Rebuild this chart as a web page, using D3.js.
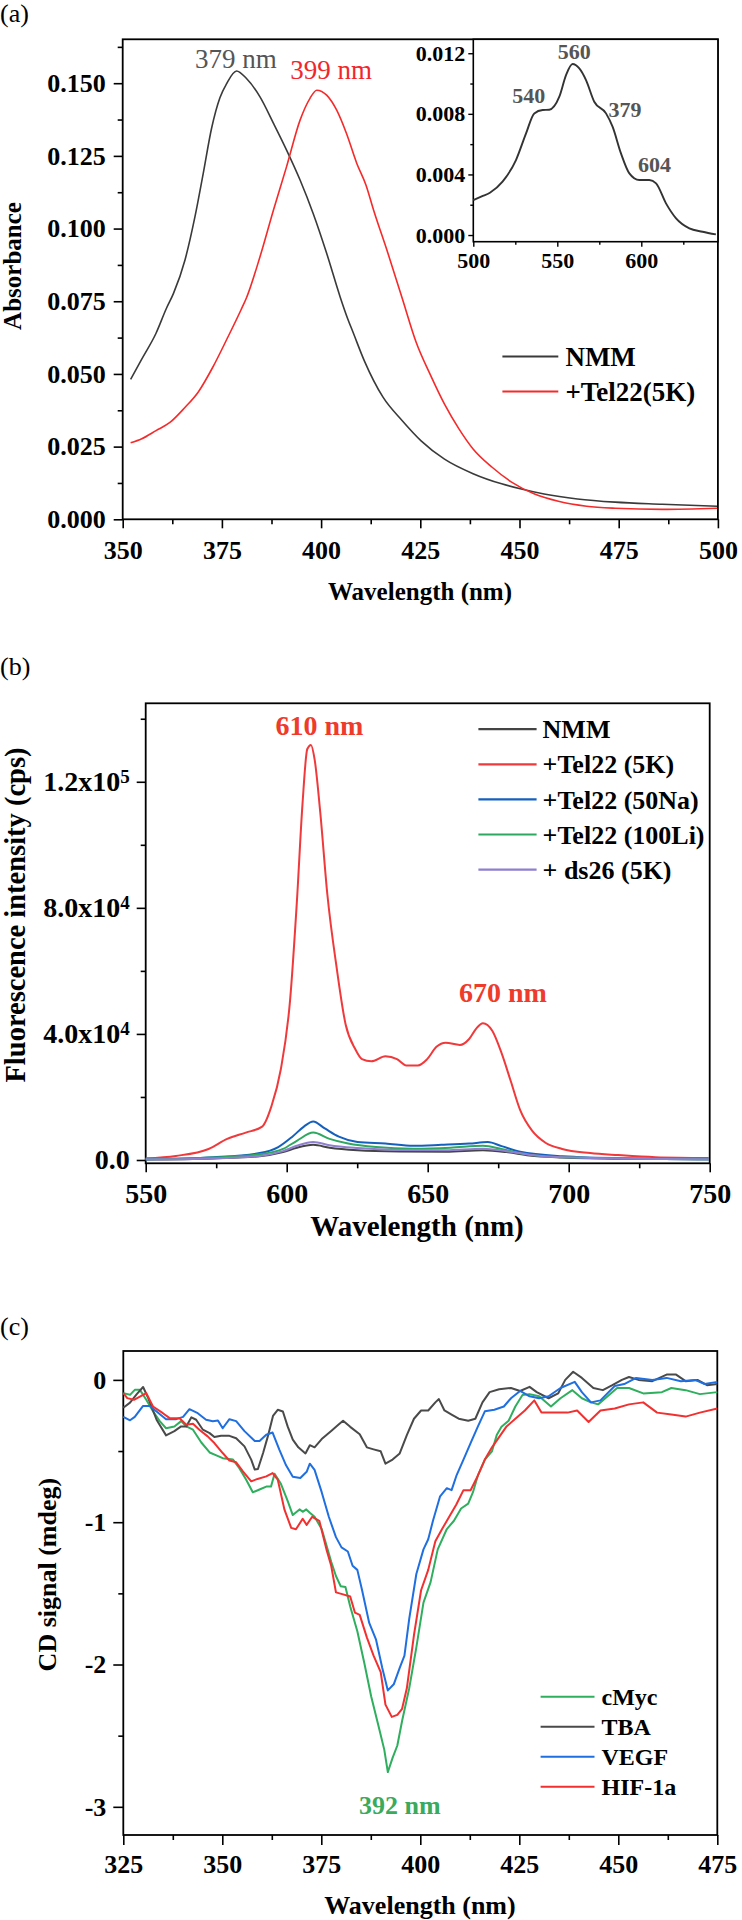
<!DOCTYPE html>
<html><head><meta charset="utf-8">
<script src="https://cdn.jsdelivr.net/npm/d3@7/dist/d3.min.js"></script>
<style>body{margin:0;background:#fff}</style>
</head><body>
<svg id="fig" width="742" height="1920" xmlns="http://www.w3.org/2000/svg"></svg>
<script>
// ---------- Panel (a) data: UV-vis absorbance ----------
const aXTicks = [350, 375, 400, 425, 450, 475, 500];
const aXMinor = [362.5, 387.5, 412.5, 437.5, 462.5, 487.5];
const aYTicks = [0, 0.025, 0.05, 0.075, 0.1, 0.125, 0.15];
const aYLabels = ["0.000", "0.025", "0.050", "0.075", "0.100", "0.125", "0.150"];
const aYMinor = [0.0125, 0.0375, 0.0625, 0.0875, 0.1125, 0.1375, 0.1625];
const aNMM = [[352.0,0.0481],[354.8,0.0551],[358.4,0.0640],[361.0,0.0725],[362.8,0.0777],[365.7,0.0892],[368.2,0.1040],[370.3,0.1190],[372.4,0.1345],[374.5,0.1450],[376.2,0.1499],[378.7,0.1542],[381.2,0.1516],[384.6,0.1453],[388.0,0.1362],[391.3,0.1270],[394.7,0.1167],[398.0,0.1052],[401.4,0.0915],[404.8,0.0765],[406.7,0.0690],[408.0,0.0645],[410.9,0.0545],[415.6,0.0420],[420.4,0.0340],[425.2,0.0270],[431.1,0.0207],[438.3,0.0157],[445.5,0.0122],[450.2,0.0105],[456.2,0.0087],[464.6,0.0070],[474.1,0.0059],[486.0,0.0052],[499.8,0.0045]];
const aTel22 = [[352.0,0.0263],[354.8,0.0277],[358.4,0.0305],[361.9,0.0333],[365.5,0.0382],[369.1,0.0439],[372.7,0.0523],[376.3,0.0621],[379.8,0.0720],[381.2,0.0762],[384.6,0.0903],[388.0,0.1064],[391.3,0.1213],[394.7,0.1373],[397.2,0.1448],[398.9,0.1476],[401.4,0.1459],[403.9,0.1408],[406.4,0.1327],[409.0,0.1224],[411.3,0.1150],[413.2,0.1065],[416.8,0.0917],[420.4,0.0762],[424.0,0.0607],[427.6,0.0495],[431.1,0.0396],[434.7,0.0312],[438.3,0.0242],[443.1,0.0179],[447.9,0.0129],[453.8,0.0087],[459.8,0.0062],[466.9,0.0045],[474.1,0.0038],[486.0,0.0034],[499.8,0.0038]];
const aLegend = ["NMM", "+Tel22(5K)"];
// inset
const iXTicks = [500, 550, 600];
const iXMinor = [525, 575, 625];
const iYTicks = [0, 0.004, 0.008, 0.012];
const iYLabels = ["0.000", "0.004", "0.008", "0.012"];
const iYMinor = [0.002, 0.006, 0.010];
const iNMM = [[500,0.00231],[505,0.00255],[509.9,0.00279],[517.4,0.00352],[525.4,0.00495],[531.4,0.00671],[536.3,0.00803],[541.3,0.00825],[545.2,0.00827],[551.2,0.00913],[555.2,0.01056],[559.1,0.01129],[563.1,0.01100],[567.1,0.01023],[572.0,0.00880],[579.0,0.00803],[582.9,0.00715],[587.9,0.00539],[592.9,0.00407],[598.8,0.00363],[604.8,0.00363],[608.8,0.00341],[614.7,0.00209],[620.7,0.00110],[628.6,0.00044],[636.5,0.00022],[644.4,0.00004]];
const iPeaks = ["540", "560", "379", "604"];

// ---------- Panel (b) data: fluorescence ----------
const bXTicks = [550, 600, 650, 700, 750];
const bXMinor = [575, 625, 675, 725];
const bYTicks = [0, 40000, 80000, 120000];
const bYBase = ["0.0", "4.0x10", "8.0x10", "1.2x10"];
const bYExp = ["", "4", "4", "5"];
const bYMinor = [20000, 60000, 100000, 140000];
const bNMM = [[550,130],[573.9,500],[590.4,1200],[598.7,2500],[603.6,3900],[609.4,4800],[615.2,3900],[625.1,3100],[640,2700],[656.4,2600],[669.6,3100],[677.9,2500],[686,1400],[697.7,800],[720,400],[749.7,260]];
const bTel22K = [[550,520],[560.7,1300],[572.3,3500],[578.9,6700],[585.5,8700],[591.3,10600],[594.6,17100],[597.9,28700],[601.2,50700],[603.6,81800],[605.6,112900],[607.3,130400],[608.6,131700],[609.9,127100],[611.9,110300],[614.4,84400],[617.7,61100],[620.9,43000],[624.3,35200],[626.7,32000],[630.0,31300],[635.0,32900],[639.1,32000],[642.4,30000],[646.5,30000],[649.8,32000],[653.1,35900],[656.4,37200],[661.4,36500],[664.7,38400],[667.2,41700],[669.6,43400],[672.9,41000],[676.2,33900],[679.5,24900],[682.8,15800],[687.0,9300],[691.9,5400],[697.7,3500],[707.6,2200],[717.5,1550],[730.7,900],[749.7,650]];
const bTel22Na = [[550,260],[573.9,900],[590.4,2200],[597.0,4100],[602.0,7400],[606.1,10600],[609.4,12200],[613.5,10000],[618.5,7400],[625.1,5700],[635.0,5200],[644.9,4500],[654.8,4800],[664.7,5200],[671.3,5700],[676.2,4400],[682.8,2600],[697.7,1200],[722.4,500],[749.7,260]];
const bTel22Li = [[550,260],[573.9,780],[590.4,1800],[598.7,3500],[603.6,6100],[609.4,8700],[615.2,6700],[621.8,5200],[631.7,4100],[644.9,3600],[658.1,3900],[669.6,4500],[676.2,3500],[682.8,2100],[697.7,900],[749.7,260]];
const bDs26 = [[550,200],[573.9,500],[590.4,1300],[598.7,2800],[603.6,4500],[609.4,5700],[615.2,4700],[625.1,3800],[639.9,3200],[656.4,3100],[669.6,3600],[677.9,2800],[686.1,1700],[697.7,900],[749.7,260]];
const bLegend = ["NMM", "+Tel22 (5K)", "+Tel22 (50Na)", "+Tel22 (100Li)", "+ ds26 (5K)"];

// ---------- Panel (c) data: CD ----------
const cXTicks = [325, 350, 375, 400, 425, 450, 475];
const cXMinor = [337.5, 362.5, 387.5, 412.5, 437.5, 462.5];
const cYTicks = [-3, -2, -1, 0];
const cYLabels = ["-3", "-2", "-1", "0"];
const cYMinor = [-2.5, -1.5, -0.5];
const cMyc = [[325,-0.093],[326.7,-0.105],[327.9,-0.07],[329.2,-0.07],[330.8,-0.14],[332.5,-0.22],[334.2,-0.29],[335.8,-0.34],[337.9,-0.327],[339.6,-0.29],[340.9,-0.327],[342.6,-0.35],[344.7,-0.44],[346.8,-0.51],[348.5,-0.53],[350.1,-0.55],[352.7,-0.56],[354.3,-0.62],[356.0,-0.70],[357.7,-0.79],[359.4,-0.77],[361.1,-0.75],[362.3,-0.75],[363.2,-0.66],[364.8,-0.73],[366.5,-0.85],[367.8,-0.95],[369.5,-0.91],[370.3,-0.927],[371.2,-0.91],[372.1,-0.933],[373.3,-0.962],[375.1,-1.048],[376.3,-1.163],[377.5,-1.278],[378.7,-1.378],[379.9,-1.45],[381.1,-1.456],[382.3,-1.593],[384.1,-1.766],[385.9,-1.995],[387.6,-2.225],[389.4,-2.426],[390.9,-2.598],[391.8,-2.756],[393.0,-2.656],[394.2,-2.569],[395.4,-2.397],[397.2,-2.167],[399.0,-1.880],[400.8,-1.565],[402.6,-1.421],[404.4,-1.191],[406.7,-1.048],[408.5,-0.990],[410.3,-0.904],[412.1,-0.870],[413.3,-0.789],[414.5,-0.675],[416.3,-0.560],[418.1,-0.502],[419.3,-0.388],[420.5,-0.330],[422.3,-0.287],[424.0,-0.187],[425.8,-0.106],[427.6,-0.100],[430.0,-0.115],[433.0,-0.187],[435.4,-0.129],[438.4,-0.072],[440.8,-0.129],[443.1,-0.158],[444.9,-0.172],[447.3,-0.115],[449.7,-0.057],[452.7,-0.057],[456.3,-0.095],[461.0,-0.086],[463.4,-0.057],[467.0,-0.072],[470.6,-0.100],[475,-0.086]];
const cTBA = [[325,-0.196],[326.7,-0.16],[328.4,-0.10],[330.0,-0.05],[331.3,-0.128],[333.4,-0.28],[335.8,-0.39],[337.9,-0.36],[339.6,-0.327],[340.9,-0.327],[342.2,-0.263],[343.4,-0.28],[345.1,-0.35],[346.8,-0.374],[348.0,-0.402],[349.7,-0.393],[351.8,-0.393],[353.5,-0.41],[355.6,-0.467],[357.3,-0.56],[358.2,-0.63],[359.0,-0.626],[360.3,-0.514],[361.5,-0.397],[362.8,-0.253],[364.0,-0.210],[365.3,-0.222],[366.5,-0.327],[367.8,-0.42],[369.2,-0.474],[371.0,-0.517],[372.1,-0.459],[373.3,-0.474],[375.1,-0.416],[377.5,-0.359],[379.3,-0.316],[380.5,-0.287],[382.3,-0.330],[384.7,-0.382],[386.5,-0.474],[388.2,-0.488],[390.0,-0.502],[391.2,-0.589],[393.0,-0.560],[394.8,-0.517],[396.6,-0.388],[398.4,-0.273],[400.2,-0.215],[402.0,-0.215],[403.8,-0.158],[404.7,-0.135],[406.1,-0.215],[407.9,-0.244],[409.7,-0.273],[412.1,-0.287],[413.9,-0.273],[415.7,-0.158],[417.5,-0.086],[419.9,-0.066],[422.9,-0.057],[425.2,-0.078],[427.6,-0.049],[429.4,-0.086],[432.4,-0.129],[434.8,-0.095],[436.6,0.0],[438.6,0.057],[440.8,0.014],[443.7,-0.057],[446.1,-0.072],[448.5,-0.037],[450.9,0.0],[452.7,0.020],[455.1,0.0],[458.6,-0.009],[462.2,0.037],[464.6,0.037],[467.0,-0.009],[470.0,0.0],[472.4,-0.037],[475,-0.029]];
const cVEGF = [[325,-0.26],[326.7,-0.284],[327.9,-0.26],[330.0,-0.183],[331.7,-0.183],[333.4,-0.222],[335.8,-0.276],[338.4,-0.276],[340.1,-0.26],[341.7,-0.206],[343.8,-0.234],[345.9,-0.28],[347.6,-0.29],[348.9,-0.285],[350.1,-0.34],[351.8,-0.276],[353.5,-0.29],[355.6,-0.36],[358.2,-0.43],[359.4,-0.43],[361.1,-0.385],[362.7,-0.37],[364.4,-0.49],[366.1,-0.60],[367.8,-0.68],[369.7,-0.689],[371.3,-0.646],[372.1,-0.589],[373.3,-0.632],[375.1,-0.789],[376.9,-0.962],[378.7,-1.105],[380.1,-1.177],[381.7,-1.206],[382.9,-1.306],[384.1,-1.335],[385.3,-1.478],[387.1,-1.708],[388.8,-1.823],[390.4,-2.024],[391.8,-2.182],[393.3,-2.139],[394.8,-2.024],[396.0,-1.938],[397.2,-1.679],[399.0,-1.364],[400.8,-1.191],[402.0,-1.120],[403.2,-0.990],[405.0,-0.818],[406.7,-0.761],[407.9,-0.775],[409.1,-0.675],[410.9,-0.560],[412.7,-0.445],[414.5,-0.330],[416.3,-0.221],[418.7,-0.210],[421.1,-0.187],[422.9,-0.129],[425.2,-0.078],[427.6,-0.115],[430.0,-0.129],[432.4,-0.115],[435.4,-0.057],[439.0,-0.014],[440.8,-0.086],[443.1,-0.158],[445.5,-0.144],[449.1,-0.043],[451.5,-0.029],[454.5,0.014],[458.6,0.0],[462.2,0.014],[465.8,-0.009],[469.4,0.0],[471.8,-0.029],[475,-0.014]];
const cHIF = [[325,-0.093],[326.0,-0.128],[327.7,-0.14],[329.2,-0.117],[330.8,-0.093],[332.5,-0.187],[335.0,-0.234],[336.7,-0.269],[339.2,-0.269],[340.9,-0.315],[342.6,-0.308],[344.2,-0.35],[346.3,-0.397],[348.0,-0.444],[350.1,-0.514],[351.8,-0.567],[353.5,-0.579],[355.2,-0.643],[357.3,-0.713],[358.9,-0.696],[361.1,-0.678],[362.7,-0.655],[364.0,-0.701],[365.7,-0.912],[367.4,-1.04],[368.6,-1.05],[370.3,-0.976],[371.3,-1.019],[372.7,-0.962],[374.5,-0.990],[376.3,-1.191],[377.5,-1.306],[378.7,-1.493],[380.5,-1.507],[382.3,-1.522],[383.5,-1.636],[384.7,-1.651],[386.5,-1.809],[388.2,-1.938],[390.0,-2.053],[391.2,-2.282],[392.8,-2.368],[394.2,-2.354],[395.4,-2.311],[396.6,-2.167],[398.4,-1.794],[400.2,-1.478],[402.0,-1.335],[403.8,-1.134],[405.5,-1.048],[407.3,-0.962],[409.1,-0.876],[410.9,-0.775],[412.7,-0.775],[414.5,-0.675],[416.3,-0.560],[418.1,-0.474],[419.9,-0.402],[421.7,-0.330],[424.0,-0.273],[426.4,-0.215],[428.8,-0.144],[430.6,-0.230],[433.6,-0.230],[437.2,-0.230],[439.6,-0.215],[442.5,-0.296],[445.5,-0.215],[449.1,-0.201],[452.7,-0.172],[456.3,-0.158],[459.8,-0.230],[463.4,-0.244],[467.0,-0.258],[470.6,-0.230],[475,-0.201]];
const cLegend = ["cMyc", "TBA", "VEGF", "HIF-1a"];

// ---------- drawing ----------
const SERIF = "Liberation Serif";
const svg = d3.select("#fig");

function axes(g, x, y, o) {
  const y0 = y.range()[0], x0 = x.range()[0];
  const xa = g.append("g").attr("transform", `translate(0,${y0})`)
    .call(d3.axisBottom(x).tickValues(o.xTicks).tickSize(o.major).tickSizeOuter(0).tickPadding(o.xPad).tickFormat(o.xFmt));
  const xm = g.append("g").attr("transform", `translate(0,${y0})`)
    .call(d3.axisBottom(x).tickValues(o.xMinor).tickSize(o.minor).tickSizeOuter(0).tickFormat(""));
  const ya = g.append("g").attr("transform", `translate(${x0},0)`)
    .call(d3.axisLeft(y).tickValues(o.yTicks).tickSize(o.major).tickSizeOuter(0).tickPadding(o.yPad).tickFormat(o.yFmt));
  const lo = Math.min(...y.domain()), hi = Math.max(...y.domain());
  const ym = g.append("g").attr("transform", `translate(${x0},0)`)
    .call(d3.axisLeft(y).tickValues(o.yMinor.filter(v => v >= lo && v <= hi)).tickSize(o.minor).tickSizeOuter(0).tickFormat(""));
  [xa, xm, ya, ym].forEach(s => {
    s.select(".domain").remove();
    s.attr("font-size", o.fs).attr("font-weight", "bold");
    s.selectAll("line").attr("stroke", "#000").attr("stroke-width", o.tw || 1.6);
    s.selectAll("text").attr("fill", "#000");
  });
  g.append("rect").attr("x", x.range()[0]).attr("y", y.range()[1])
    .attr("width", x.range()[1] - x.range()[0]).attr("height", y.range()[0] - y.range()[1])
    .attr("fill", "none").attr("stroke", "#000").attr("stroke-width", o.fw || 1.8);
  return ya;
}

function legend(g, items, colors, x1, x2, tx, y0, dy, fs, sw) {
  items.forEach((t, i) => {
    const yy = y0 + i * dy;
    g.append("line").attr("x1", x1).attr("x2", x2).attr("y1", yy).attr("y2", yy)
      .attr("stroke", colors[i]).attr("stroke-width", sw);
    g.append("text").attr("x", tx).attr("y", yy).attr("dy", "0.35em")
      .attr("font-size", fs).attr("font-weight", "bold").attr("fill", "#000").text(t);
  });
}

// ----- Panel (a) -----
{
  const g = svg.append("g");
  const x = d3.scaleLinear([350, 500], [122.7, 717.9]);
  const y = d3.scaleLinear([0, 0.1651], [519.3, 39.3]);
  axes(g, x, y, {xTicks: aXTicks, xMinor: aXMinor, yTicks: aYTicks, yMinor: aYMinor,
    major: 9, minor: 5, xPad: 12, yPad: 8, fs: 26, xFmt: d => d, yFmt: (d, i) => aYLabels[i]});
  const line = d3.line().x(d => x(d[0])).y(d => y(d[1])).curve(d3.curveMonotoneX);
  g.append("path").datum(aNMM).attr("d", line).attr("fill", "none").attr("stroke", "#3a3a3a").attr("stroke-width", 1.6);
  g.append("path").datum(aTel22).attr("d", line).attr("fill", "none").attr("stroke", "#f52a2a").attr("stroke-width", 1.6);
  g.append("text").attr("x", x(378.5)).attr("y", 68).attr("text-anchor", "middle").attr("font-size", 27).attr("fill", "#555").text("379 nm");
  g.append("text").attr("x", x(402.5)).attr("y", 79).attr("text-anchor", "middle").attr("font-size", 27).attr("fill", "#f0262b").text("399 nm");
  legend(g, aLegend, ["#3a3a3a", "#f52a2a"], 502.4, 558.3, 565.4, 356.5, 35, 27, 1.8);
  g.append("text").attr("transform", "translate(21,266) rotate(-90)").attr("text-anchor", "middle")
    .attr("font-size", 25).attr("font-weight", "bold").text("Absorbance");
  g.append("text").attr("x", 420).attr("y", 600).attr("text-anchor", "middle")
    .attr("font-size", 25).attr("font-weight", "bold").text("Wavelength (nm)");
  g.append("text").attr("x", 0).attr("y", 22).attr("font-size", 26).text("(a)");

  // inset
  const ig = svg.append("g");
  const xi = d3.scaleLinear([500, 645.6], [473.3, 717.9]);
  const yi = d3.scaleLinear([-0.00044, 0.01292], [241.7, 39.3]);
  ig.append("rect").attr("x", 473.3).attr("y", 39.3).attr("width", 717.9 - 473.3).attr("height", 241.7 - 39.3).attr("fill", "#fff");
  axes(ig, xi, yi, {xTicks: iXTicks, xMinor: iXMinor, yTicks: iYTicks, yMinor: iYMinor,
    major: 5, minor: 3, xPad: 6, yPad: 3, fs: 22, xFmt: d => d, yFmt: (d, i) => iYLabels[i], tw: 1.4, fw: 1.6});
  const il = d3.line().x(d => xi(d[0])).y(d => yi(d[1])).curve(d3.curveMonotoneX);
  ig.append("path").datum(iNMM).attr("d", il).attr("fill", "none").attr("stroke", "#333").attr("stroke-width", 1.9);
  const ipos = [[528.7, 102.7], [574.2, 59.3], [625, 117.3], [654.5, 171.7]];
  iPeaks.forEach((p, k) => {
    ig.append("text").attr("x", ipos[k][0]).attr("y", ipos[k][1]).attr("text-anchor", "middle")
      .attr("font-size", 22).attr("font-weight", "bold").attr("fill", "#555").text(p);
  });
}

// ----- Panel (b) -----
{
  const g = svg.append("g");
  const x = d3.scaleLinear([550, 750], [145.7, 709.7]);
  const y = d3.scaleLinear([-1050, 144900], [1163.3, 703.3]);
  const ya = axes(g, x, y, {xTicks: bXTicks, xMinor: bXMinor, yTicks: bYTicks, yMinor: bYMinor,
    major: 9, minor: 5, xPad: 11, yPad: 7, fs: 28, xFmt: d => d, yFmt: (d, i) => bYBase[i]});
  ya.selectAll(".tick text").each(function(d) {
    const t = d3.select(this);
    const idx = bYTicks.indexOf(d);
    t.text(null);
    t.append("tspan").text(bYBase[idx]);
    if (bYExp[idx]) t.append("tspan").attr("dy", "-0.42em").attr("font-size", "0.68em").text(bYExp[idx]);
  });
  const line = d3.line().x(d => x(d[0])).y(d => y(d[1])).curve(d3.curveMonotoneX);
  const series = [bNMM, bTel22K, bTel22Na, bTel22Li, bDs26];
  const cols = ["#444444", "#f0393b", "#1560bd", "#2ea860", "#8f7fcf"];
  series.forEach((s, i) => {
    g.append("path").datum(s).attr("d", line).attr("fill", "none").attr("stroke", cols[i]).attr("stroke-width", 2);
  });
  g.append("text").attr("x", 319.5).attr("y", 735.3).attr("text-anchor", "middle").attr("font-size", 28).attr("font-weight", "bold").attr("fill", "#ee3b2b").text("610 nm");
  g.append("text").attr("x", 502.9).attr("y", 1001.8).attr("text-anchor", "middle").attr("font-size", 28).attr("font-weight", "bold").attr("fill", "#ee3b2b").text("670 nm");
  legend(g, bLegend, cols, 478.4, 536.6, 542.6, 729.2, 35.1, 26, 2.2);
  g.append("text").attr("transform", "translate(25,915) rotate(-90)").attr("text-anchor", "middle")
    .attr("font-size", 28.5).attr("font-weight", "bold").text("Fluorescence intensity (cps)");
  g.append("text").attr("x", 417).attr("y", 1236).attr("text-anchor", "middle")
    .attr("font-size", 29).attr("font-weight", "bold").text("Wavelength (nm)");
  g.append("text").attr("x", 0).attr("y", 675).attr("font-size", 26).text("(b)");
}

// ----- Panel (c) -----
{
  const g = svg.append("g");
  const x = d3.scaleLinear([325, 475], [123.3, 717.3]);
  const y = d3.scaleLinear([-3.198, 0.203], [1835, 1351]);
  axes(g, x, y, {xTicks: cXTicks, xMinor: cXMinor, yTicks: cYTicks, yMinor: cYMinor,
    major: 10, minor: 5, xPad: 10, yPad: 7, fs: 26, xFmt: d => d, yFmt: (d, i) => cYLabels[i]});
  const line = d3.line().x(d => x(d[0])).y(d => y(d[1]));
  const series = [cMyc, cTBA, cVEGF, cHIF];
  const cols = ["#2fae5e", "#4a4a4a", "#1f6fe0", "#f23030"];
  series.forEach((s, i) => {
    g.append("path").datum(s).attr("d", line).attr("fill", "none").attr("stroke", cols[i])
      .attr("stroke-width", 2).attr("stroke-linejoin", "round");
  });
  g.append("text").attr("x", 399.8).attr("y", 1814.2).attr("text-anchor", "middle").attr("font-size", 26).attr("font-weight", "bold").attr("fill", "#3aaa5c").text("392 nm");
  legend(g, cLegend, cols, 540.6, 594.5, 601.5, 1696.7, 30, 24, 2);
  g.append("text").attr("transform", "translate(56,1574.6) rotate(-90)").attr("text-anchor", "middle")
    .attr("font-size", 26).attr("font-weight", "bold").text("CD signal (mdeg)");
  g.append("text").attr("x", 420).attr("y", 1914).attr("text-anchor", "middle")
    .attr("font-size", 26).attr("font-weight", "bold").text("Wavelength (nm)");
  g.append("text").attr("x", 0).attr("y", 1335).attr("font-size", 26).text("(c)");
}

// serif font on every text, as inline style
svg.selectAll("text").style("font-family", SERIF);
svg.selectAll("g").attr("font-family", null);
</script>
</body></html>
